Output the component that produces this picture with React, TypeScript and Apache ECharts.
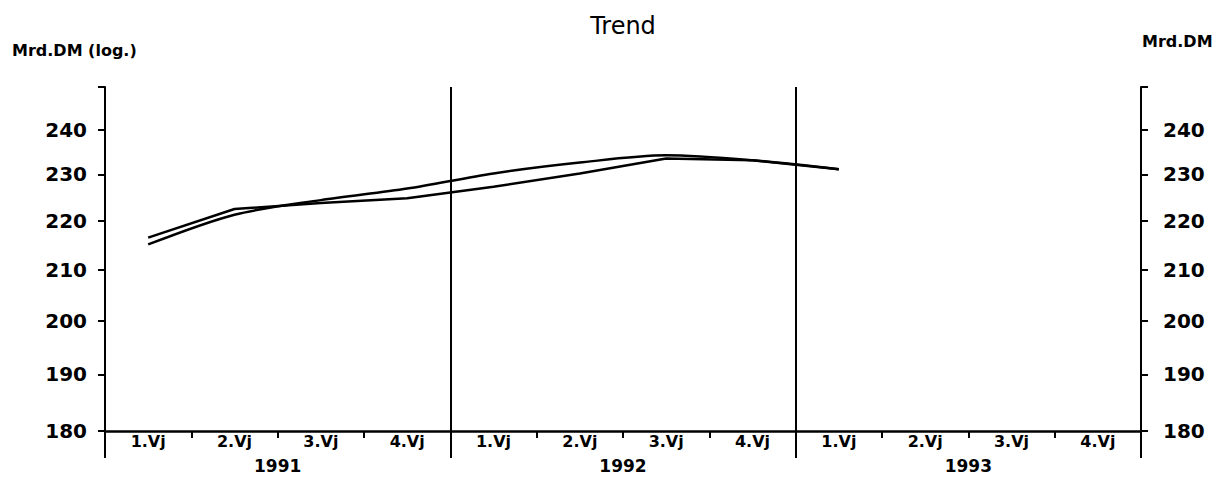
import React, { useEffect, useRef } from "react";
import * as echarts from "echarts";

const quarters = [
  "1.Vj", "2.Vj", "3.Vj", "4.Vj",
  "1.Vj", "2.Vj", "3.Vj", "4.Vj",
  "1.Vj", "2.Vj", "3.Vj", "4.Vj",
];
const years = ["1991", "1992", "1993"];
// Values in Mrd. DM (log scale)
const actualValues = [216.5, 222.5, 223.8, 224.8, 227.3, 230.2, 233.5, 233.1, 231.1];
const trendValues = [215.1, 221.3, 224.4, 226.9, 230.2, 232.6, 234.2, 233.1, 231.1];
const yTickLabels = [180, 190, 200, 210, 220, 230, 240];
const yMin = 180;
const yMax = 250;

const FONT = "DejaVu Sans";

export default function App() {
  const ref = useRef<HTMLDivElement>(null);
  useEffect(() => {
    if (!ref.current) return;
    const chart = echarts.init(ref.current, null, { renderer: "svg" });
    const ln = (v: number) => Math.log(v);
    const tickVals = [...yTickLabels, yMax].map(ln);
    const labelVals = yTickLabels.map(ln);
    const yAxisBase = (position: "left" | "right", margin: number) => ({
      type: "value" as const,
      position,
      min: ln(yMin),
      max: ln(yMax),
      axisLine: { show: true, lineStyle: { color: "#000", width: 2 } },
      axisTick: {
        show: true,
        customValues: tickVals,
        length: 7,
        lineStyle: { color: "#000", width: 2 },
      },
      axisLabel: {
        customValues: labelVals,
        formatter: (v: number) => String(Math.round(Math.exp(v))),
        color: "#000",
        fontFamily: FONT,
        fontWeight: "bold" as const,
        fontSize: 20,
        margin,
      },
      splitLine: { show: false },
    });
    chart.setOption({
      animation: false,
      backgroundColor: "#fff",
      title: {
        text: "Trend",
        left: 618,
        textAlign: "center",
        top: 9,
        textStyle: { fontFamily: FONT, fontSize: 24, fontWeight: "normal", color: "#000" },
      },
      graphic: [
        {
          type: "text",
          left: 12,
          top: 42,
          style: { text: "Mrd.DM (log.)", font: `bold 16px "${FONT}"`, fill: "#000" },
        },
        {
          type: "text",
          left: 1142,
          top: 33,
          style: { text: "Mrd.DM", font: `bold 16px "${FONT}"`, fill: "#000" },
        },
      ],
      grid: { left: 105, right: 90, top: 87, bottom: 48 },
      xAxis: [
        {
          type: "category",
          data: quarters,
          boundaryGap: true,
          position: "bottom",
          axisLine: { show: true, lineStyle: { color: "#000", width: 2.5 } },
          axisTick: { show: true, interval: 0, length: 7, lineStyle: { color: "#000", width: 2 } },
          axisLabel: {
            interval: 0,
            color: "#000",
            fontFamily: FONT,
            fontWeight: "bold",
            fontSize: 16,
            margin: 2,
          },
          splitLine: { show: false },
        },
        {
          type: "category",
          data: years,
          boundaryGap: true,
          position: "bottom",
          axisLine: { show: false },
          axisTick: { show: true, interval: 0, length: 27, lineStyle: { color: "#000", width: 2 } },
          axisLabel: {
            interval: 0,
            color: "#000",
            fontFamily: FONT,
            fontWeight: "bold",
            fontSize: 17,
            margin: 26,
          },
          splitLine: { show: true, interval: 0, lineStyle: { color: "#000", width: 2 } },
        },
      ],
      yAxis: [yAxisBase("left", 18), yAxisBase("right", 22)],
      series: [
        {
          name: "Ist",
          type: "line",
          xAxisIndex: 0,
          yAxisIndex: 0,
          data: actualValues.map(ln),
          symbol: "none",
          lineStyle: { color: "#000", width: 2.5 },
        },
        {
          name: "Trend",
          type: "line",
          xAxisIndex: 0,
          yAxisIndex: 0,
          data: trendValues.map(ln),
          symbol: "none",
          smooth: 0.3,
          lineStyle: { color: "#000", width: 2.5 },
        },
      ],
    });
    return () => chart.dispose();
  }, []);
  return (
    <div
      ref={ref}
      style={{ position: "fixed", left: 0, top: 0, width: 1231, height: 479, background: "#fff" }}
    />
  );
}
